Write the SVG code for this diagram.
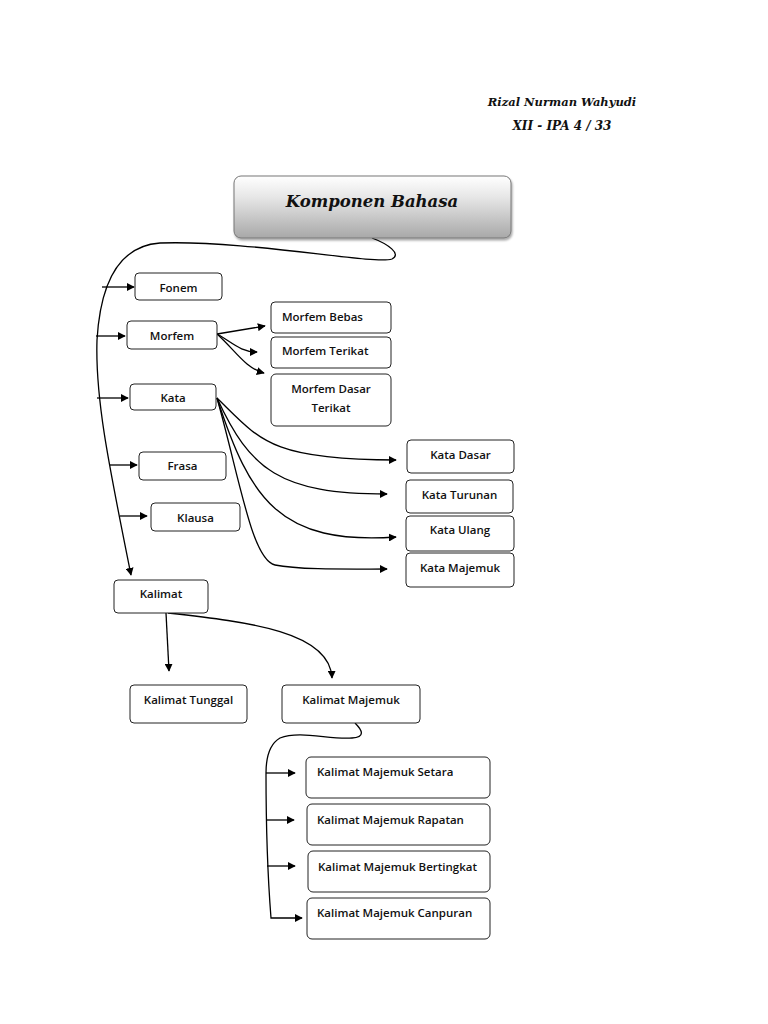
<svg xmlns="http://www.w3.org/2000/svg" width="768" height="1024" viewBox="0 0 768 1024">
<defs>
<linearGradient id="tg" x1="0" y1="0" x2="0" y2="1">
<stop offset="0" stop-color="#ffffff"/>
<stop offset="0.35" stop-color="#e6e6e6"/>
<stop offset="1" stop-color="#a8a8a8"/>
</linearGradient>
<filter id="sh" x="-10%" y="-10%" width="120%" height="130%">
<feDropShadow dx="1" dy="2" stdDeviation="1.2" flood-color="#000" flood-opacity="0.35"/>
</filter>
<marker id="ah" viewBox="0 0 10 10" refX="9" refY="5" markerWidth="8" markerHeight="8" markerUnits="userSpaceOnUse" orient="auto">
<path d="M0,0 L10,5 L0,10 z" fill="#000"/>
</marker>
</defs>
<style>
.b{fill:#fff;stroke:#222;stroke-width:1;}
.t{font-family:"Open Sans","Liberation Sans",sans-serif;font-size:11.5px;font-weight:600;fill:#111;}
.c{text-anchor:middle;}
.s{font-family:"DejaVu Serif","Liberation Serif",serif;font-style:italic;font-weight:bold;fill:#111;text-anchor:middle;}
.la{fill:none;stroke:#000;stroke-width:1.3;marker-end:url(#ah);}
</style>
<rect width="768" height="1024" fill="#fff"/>
<g id="author">
<text class="s" x="562" y="106" font-size="11.5">Rizal Nurman Wahyudi</text>
<text class="s" x="562" y="130" font-size="12">XII - IPA 4 / 33</text>
</g>
<g id="connectors">
<path class="la" d="M372,238 C388,244 402,254 392,259 C372,265 250,240 160,243 C115,246 100,290 97,340 C95,400 110,470 131,575"/>
<path class="la" d="M102,287 L134,287"/>
<path class="la" d="M96,336 L125,336"/>
<path class="la" d="M97,398 L128,398"/>
<path class="la" d="M110,465 L137,465"/>
<path class="la" d="M120,516 L147,516"/>
<path class="la" d="M217,334 L265,326"/>
<path class="la" d="M217,334 C232,342 240,352 257,352"/>
<path class="la" d="M217,334 C235,350 245,368 264,373"/>
<path class="la" d="M217,398 C260,440 270,460 396,460"/>
<path class="la" d="M217,398 C250,470 280,494 387,494"/>
<path class="la" d="M217,398 C250,500 280,545 396,537"/>
<path class="la" d="M217,398 C240,480 252,560 275,565 C300,570 350,569 387,569"/>
<path class="la" d="M166,613 L169,671"/>
<path class="la" d="M168,613 C250,622 330,632 332,678"/>
<path class="la" d="M355,723 C362,730 366,737 352,738 C330,740 300,730 280,738 C268,745 266,760 266,773 C266,830 268,880 271,918 L302,918"/>
<path class="la" d="M266,773 L295,773"/>
<path class="la" d="M266,820 L294,820"/>
<path class="la" d="M267,866 L295,866"/>
</g>
<g id="title">
<rect x="234" y="176" width="277" height="62" rx="7" fill="url(#tg)" stroke="#777" stroke-width="1" filter="url(#sh)"/>
<text class="s" x="372" y="207" font-size="16.5">Komponen Bahasa</text>
</g>
<g id="fonem"><rect class="b" x="135" y="273" width="87" height="27" rx="4"/><text class="t c" x="178.5" y="292">Fonem</text></g>
<g id="morfem"><rect class="b" x="127" y="321" width="90" height="28" rx="4"/><text class="t c" x="172" y="340">Morfem</text></g>
<g id="kata"><rect class="b" x="130" y="384" width="86" height="26" rx="4"/><text class="t c" x="173" y="402">Kata</text></g>
<g id="frasa"><rect class="b" x="139" y="452" width="87" height="28" rx="4"/><text class="t c" x="182.5" y="470">Frasa</text></g>
<g id="klausa"><rect class="b" x="151" y="503" width="89" height="28" rx="4"/><text class="t c" x="195.5" y="522">Klausa</text></g>
<g id="kalimat"><rect class="b" x="114" y="580" width="94" height="33" rx="4"/><text class="t c" x="161" y="598">Kalimat</text></g>
<g id="morfem-bebas"><rect class="b" x="271" y="302" width="120" height="31" rx="4"/><text class="t" x="282" y="321">Morfem Bebas</text></g>
<g id="morfem-terikat"><rect class="b" x="271" y="337" width="120" height="31" rx="4"/><text class="t" x="282" y="355">Morfem Terikat</text></g>
<g id="morfem-dasar-terikat"><rect class="b" x="271" y="374" width="120" height="52" rx="5"/><text class="t c" x="331" y="393">Morfem Dasar</text><text class="t c" x="331" y="412">Terikat</text></g>
<g id="kata-dasar"><rect class="b" x="407" y="440" width="107" height="33" rx="4"/><text class="t c" x="460.5" y="459">Kata Dasar</text></g>
<g id="kata-turunan"><rect class="b" x="406" y="480" width="107" height="33" rx="4"/><text class="t c" x="459.5" y="499">Kata Turunan</text></g>
<g id="kata-ulang"><rect class="b" x="406" y="516" width="108" height="35" rx="4"/><text class="t c" x="460" y="534">Kata Ulang</text></g>
<g id="kata-majemuk"><rect class="b" x="406" y="553" width="108" height="34" rx="4"/><text class="t c" x="460" y="572">Kata Majemuk</text></g>
<g id="kalimat-tunggal"><rect class="b" x="130" y="685" width="117" height="38" rx="4"/><text class="t c" x="188.5" y="704">Kalimat Tunggal</text></g>
<g id="kalimat-majemuk"><rect class="b" x="282" y="685" width="138" height="38" rx="4"/><text class="t c" x="351" y="704">Kalimat Majemuk</text></g>
<g id="km-setara"><rect class="b" x="306" y="757" width="184" height="41" rx="5"/><text class="t" x="317" y="776">Kalimat Majemuk Setara</text></g>
<g id="km-rapatan"><rect class="b" x="307" y="804" width="183" height="41" rx="5"/><text class="t" x="317" y="824">Kalimat Majemuk Rapatan</text></g>
<g id="km-bertingkat"><rect class="b" x="308" y="851" width="182" height="41" rx="5"/><text class="t" x="318" y="871">Kalimat Majemuk Bertingkat</text></g>
<g id="km-canpuran"><rect class="b" x="307" y="898" width="183" height="41" rx="5"/><text class="t" x="317" y="917">Kalimat Majemuk Canpuran</text></g>
</svg>
